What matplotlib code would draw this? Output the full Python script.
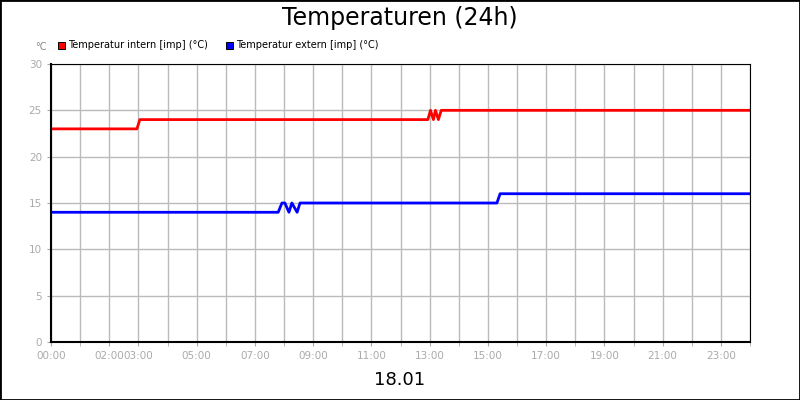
import matplotlib
matplotlib.use("Agg")
import matplotlib.pyplot as plt
from matplotlib.patches import Rectangle

intern_t = [0, 2.95, 3.05, 12.94, 13.03, 13.13, 13.2, 13.3, 13.4, 24]
intern_v = [23, 23, 24, 24, 25, 24, 25, 24, 25, 25]
extern_t = [0, 7.8, 7.93, 8.03, 8.17, 8.27, 8.45, 8.55, 15.31, 15.42, 24]
extern_v = [14, 14, 15, 15, 14, 15, 14, 15, 15, 16, 16]
tick_hours = [0, 2, 3, 5, 7, 9, 11, 13, 15, 17, 19, 21, 23]
tick_labels = ["%02d:00" % h for h in tick_hours]

fig = plt.figure(figsize=(8, 4), dpi=100)
fig.patches.append(Rectangle((0, 0), 1, 1, transform=fig.transFigure, fill=False,
                             edgecolor="black", linewidth=2))
ax = fig.add_axes([51/800, 1-342/400, 699/800, 278/400])
ax.plot(intern_t, intern_v, color="#ff0000", lw=2)
ax.plot(extern_t, extern_v, color="#0000ff", lw=2)
ax.set_xlim(0, 24)
ax.set_ylim(0, 30)
ax.set_yticks(range(0, 31, 5))
ax.set_xticks(range(0, 25), minor=True)
ax.set_xticks(tick_hours)
ax.set_xticklabels(tick_labels)
ax.grid(True, which="both", axis="x", color="#bbbbbb", lw=1)
ax.grid(True, axis="y", color="#bbbbbb", lw=1)
ax.tick_params(colors="#aaaaaa", labelsize=7.5, length=3, which="both")
for s in ax.spines.values():
    s.set_color("black")
ax.spines["left"].set_linewidth(1.5)
ax.spines["bottom"].set_linewidth(1.5)
fig.text(0.5, 1-18/400, "Temperaturen (24h)", ha="center", va="center", fontsize=17)
fig.text(41/800, 1-47/400, "°C", ha="center", va="center", fontsize=7, color="#888888")
fig.patches.append(Rectangle((58/800, 1-49/400), 7/800, 7/400, transform=fig.transFigure,
                             facecolor="#ff0000", edgecolor="black", lw=0.7))
fig.text(68/800, 1-45/400, "Temperatur intern [imp] (°C)", va="center", fontsize=7)
fig.patches.append(Rectangle((226/800, 1-49/400), 7/800, 7/400, transform=fig.transFigure,
                             facecolor="#0000ff", edgecolor="black", lw=0.7))
fig.text(236/800, 1-45/400, "Temperatur extern [imp] (°C)", va="center", fontsize=7)
fig.text(0.5, 1-380/400, "18.01", ha="center", va="center", fontsize=13)
fig.savefig("out.png", dpi=100)
